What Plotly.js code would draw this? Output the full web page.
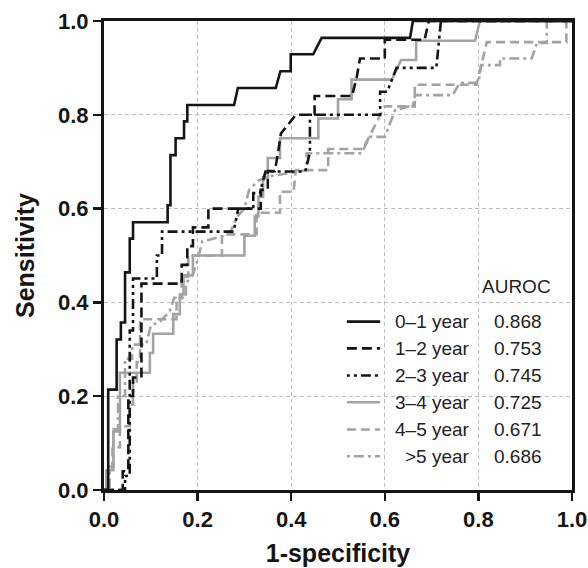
<!DOCTYPE html>
<html>
<head>
<meta charset="utf-8">
<script src="https://cdn.plot.ly/plotly-3.0.1.min.js"></script>
<style>html,body{margin:0;padding:0;background:#fff;}#chart{width:588px;height:568px;}</style>
</head>
<body>
<div id="chart"></div>
<script>
// ROC curves (x = 1-specificity, y = sensitivity)
var fpr01 = [0, 0.009, 0.009, 0.027, 0.027, 0.036, 0.036, 0.045, 0.045, 0.055, 0.055, 0.062, 0.062, 0.136, 0.136, 0.142, 0.142, 0.153, 0.153, 0.171, 0.171, 0.178, 0.178, 0.278, 0.286, 0.367, 0.377, 0.399, 0.399, 0.447, 0.465, 0.654, 0.660, 1];
var tpr01 = [0, 0, 0.214, 0.214, 0.321, 0.321, 0.357, 0.357, 0.464, 0.464, 0.536, 0.536, 0.571, 0.571, 0.607, 0.607, 0.714, 0.714, 0.750, 0.750, 0.786, 0.786, 0.821, 0.821, 0.857, 0.857, 0.893, 0.893, 0.929, 0.929, 0.964, 0.964, 1, 1];

var fpr12 = [0, 0.040, 0.040, 0.052, 0.052, 0.062, 0.062, 0.080, 0.080, 0.166, 0.166, 0.178, 0.178, 0.190, 0.190, 0.223, 0.223, 0.335, 0.335, 0.350, 0.350, 0.365, 0.372, 0.378, 0.410, 0.450, 0.450, 0.530, 0.540, 0.547, 0.600, 0.600, 0.685, 0.694, 1];
var tpr12 = [0, 0, 0.04, 0.04, 0.20, 0.20, 0.24, 0.24, 0.44, 0.44, 0.48, 0.48, 0.52, 0.52, 0.56, 0.56, 0.60, 0.60, 0.64, 0.64, 0.68, 0.68, 0.72, 0.76, 0.80, 0.80, 0.84, 0.84, 0.88, 0.92, 0.92, 0.96, 0.96, 1, 1];

var fpr23 = [0, 0.045, 0.045, 0.055, 0.055, 0.062, 0.062, 0.113, 0.113, 0.124, 0.124, 0.277, 0.287, 0.319, 0.319, 0.333, 0.345, 0.430, 0.440, 0.440, 0.590, 0.590, 0.605, 0.625, 0.710, 0.720, 1];
var tpr23 = [0, 0, 0.03, 0.03, 0.34, 0.34, 0.451, 0.451, 0.500, 0.500, 0.551, 0.551, 0.600, 0.600, 0.633, 0.633, 0.679, 0.679, 0.720, 0.800, 0.800, 0.849, 0.849, 0.900, 0.900, 1, 1];

var fpr34 = [0, 0.005, 0.005, 0.020, 0.020, 0.034, 0.034, 0.098, 0.098, 0.105, 0.105, 0.148, 0.148, 0.162, 0.162, 0.170, 0.170, 0.190, 0.190, 0.300, 0.300, 0.322, 0.322, 0.330, 0.330, 0.340, 0.340, 0.350, 0.350, 0.376, 0.376, 0.458, 0.458, 0.500, 0.500, 0.529, 0.529, 0.615, 0.635, 0.667, 0.667, 0.793, 0.803, 1];
var tpr34 = [0, 0, 0.042, 0.042, 0.125, 0.125, 0.250, 0.250, 0.292, 0.292, 0.333, 0.333, 0.375, 0.375, 0.417, 0.417, 0.458, 0.458, 0.500, 0.500, 0.542, 0.542, 0.583, 0.583, 0.625, 0.625, 0.667, 0.667, 0.708, 0.708, 0.750, 0.750, 0.792, 0.792, 0.833, 0.833, 0.875, 0.875, 0.917, 0.917, 0.958, 0.958, 1, 1];

var fpr45 = [0, 0.008, 0.008, 0.018, 0.018, 0.034, 0.034, 0.055, 0.055, 0.062, 0.062, 0.070, 0.070, 0.077, 0.077, 0.155, 0.155, 0.166, 0.166, 0.180, 0.180, 0.252, 0.252, 0.326, 0.326, 0.376, 0.376, 0.405, 0.410, 0.479, 0.479, 0.553, 0.600, 0.664, 0.664, 0.796, 0.818, 0.988, 0.988, 1];
var tpr45 = [0, 0, 0.045, 0.045, 0.091, 0.091, 0.136, 0.136, 0.182, 0.182, 0.227, 0.227, 0.273, 0.273, 0.364, 0.364, 0.409, 0.409, 0.455, 0.455, 0.500, 0.500, 0.545, 0.545, 0.591, 0.591, 0.636, 0.636, 0.682, 0.682, 0.727, 0.727, 0.818, 0.818, 0.864, 0.864, 0.955, 0.955, 1, 1];

var fpr5p = [0, 0.012, 0.012, 0.020, 0.020, 0.030, 0.030, 0.045, 0.045, 0.060, 0.060, 0.090, 0.100, 0.120, 0.140, 0.150, 0.175, 0.175, 0.190, 0.200, 0.210, 0.250, 0.270, 0.285, 0.300, 0.310, 0.330, 0.360, 0.433, 0.433, 0.550, 0.568, 0.600, 0.622, 0.660, 0.665, 0.745, 0.760, 0.800, 0.806, 0.846, 0.846, 0.914, 0.925, 0.946, 0.946, 1];
var tpr5p = [0, 0, 0.05, 0.05, 0.13, 0.13, 0.20, 0.20, 0.28, 0.28, 0.31, 0.31, 0.35, 0.36, 0.38, 0.41, 0.41, 0.44, 0.46, 0.49, 0.53, 0.54, 0.55, 0.583, 0.60, 0.64, 0.66, 0.67, 0.682, 0.718, 0.718, 0.753, 0.753, 0.81, 0.82, 0.842, 0.842, 0.868, 0.868, 0.906, 0.906, 0.92, 0.92, 0.953, 0.953, 1, 1];

var seriesNames = ["0\u20131 year", "1\u20132 year", "2\u20133 year", "3\u20134 year", "4\u20135 year", ">5 year"];
var aurocValues = ["0.868", "0.753", "0.745", "0.725", "0.671", "0.686"];
var xTicks = [0, 0.2, 0.4, 0.6, 0.8, 1.0];
var yTicks = [0, 0.2, 0.4, 0.6, 0.8, 1.0];

var BLACK = '#151515', GRAY = '#a3a3a3';
var styles = [
  {color: BLACK, dash: 'solid'},
  {color: BLACK, dash: '10px,5px'},
  {color: BLACK, dash: '3px,4px,3px,4px,10px,4px'},
  {color: GRAY, dash: 'solid'},
  {color: GRAY, dash: '9px,5px'},
  {color: GRAY, dash: '3px,4px,10px,4px'}
];
var xs = [fpr01, fpr12, fpr23, fpr34, fpr45, fpr5p];
var ys = [tpr01, tpr12, tpr23, tpr34, tpr45, tpr5p];

var traces = [];
for (var i = 5; i >= 0; i--) {
  traces.push({
    x: xs[i], y: ys[i], type: 'scatter', mode: 'lines', name: seriesNames[i],
    line: {color: styles[i].color, width: 2.6, dash: styles[i].dash, shape: 'linear'},
    hoverinfo: 'skip', showlegend: false
  });
}

var FONT = 'Liberation Sans, Arial, Helvetica, sans-serif';
var shapes = [], annotations = [];
var rowY = [0.359, 0.302, 0.244, 0.187, 0.129, 0.072];
for (var k = 0; k < 6; k++) {
  shapes.push({type: 'line', xref: 'paper', yref: 'paper', x0: 0.519, x1: 0.590, y0: rowY[k], y1: rowY[k],
    line: {color: styles[k].color, width: 2.6, dash: styles[k].dash}});
  annotations.push({xref: 'paper', yref: 'paper', x: 0.786, y: rowY[k], xanchor: 'right', yanchor: 'middle',
    text: seriesNames[k], showarrow: false, font: {family: FONT, size: 19, color: '#222'}});
  annotations.push({xref: 'paper', yref: 'paper', x: 0.828, y: rowY[k], xanchor: 'left', yanchor: 'middle',
    text: aurocValues[k], showarrow: false, font: {family: FONT, size: 19, color: '#222'}});
}
annotations.push({xref: 'paper', yref: 'paper', x: 0.803, y: 0.433, xanchor: 'left', yanchor: 'middle',
  text: 'AUROC', showarrow: false, font: {family: FONT, size: 19, color: '#222'}});

var axisCommon = {
  range: [0, 1], showline: true, linewidth: 3, linecolor: BLACK, mirror: true,
  ticks: 'outside', ticklen: 8, tickwidth: 2.5, tickcolor: BLACK,
  showgrid: true, gridcolor: '#bdbdbd', gridwidth: 1, griddash: '4px,3px',
  zeroline: false, tickformat: '.1f', fixedrange: true,
  tickfont: {family: FONT, size: 22, color: BLACK, weight: 'bold'}
};

var layout = {
  width: 588, height: 568,
  margin: {l: 104, r: 16, t: 21, b: 78},
  paper_bgcolor: '#ffffff', plot_bgcolor: '#ffffff',
  showlegend: false,
  xaxis: Object.assign({}, axisCommon, {tickvals: xTicks,
    title: {text: '1-specificity', font: {family: FONT, size: 25, color: BLACK, weight: 'bold'}, standoff: 14}}),
  yaxis: Object.assign({}, axisCommon, {tickvals: yTicks,
    title: {text: 'Sensitivity', font: {family: FONT, size: 25, color: BLACK, weight: 'bold'}, standoff: 17}}),
  shapes: shapes,
  annotations: annotations
};

Plotly.newPlot('chart', traces, layout, {displayModeBar: false, staticPlot: true});
</script>
</body>
</html>
